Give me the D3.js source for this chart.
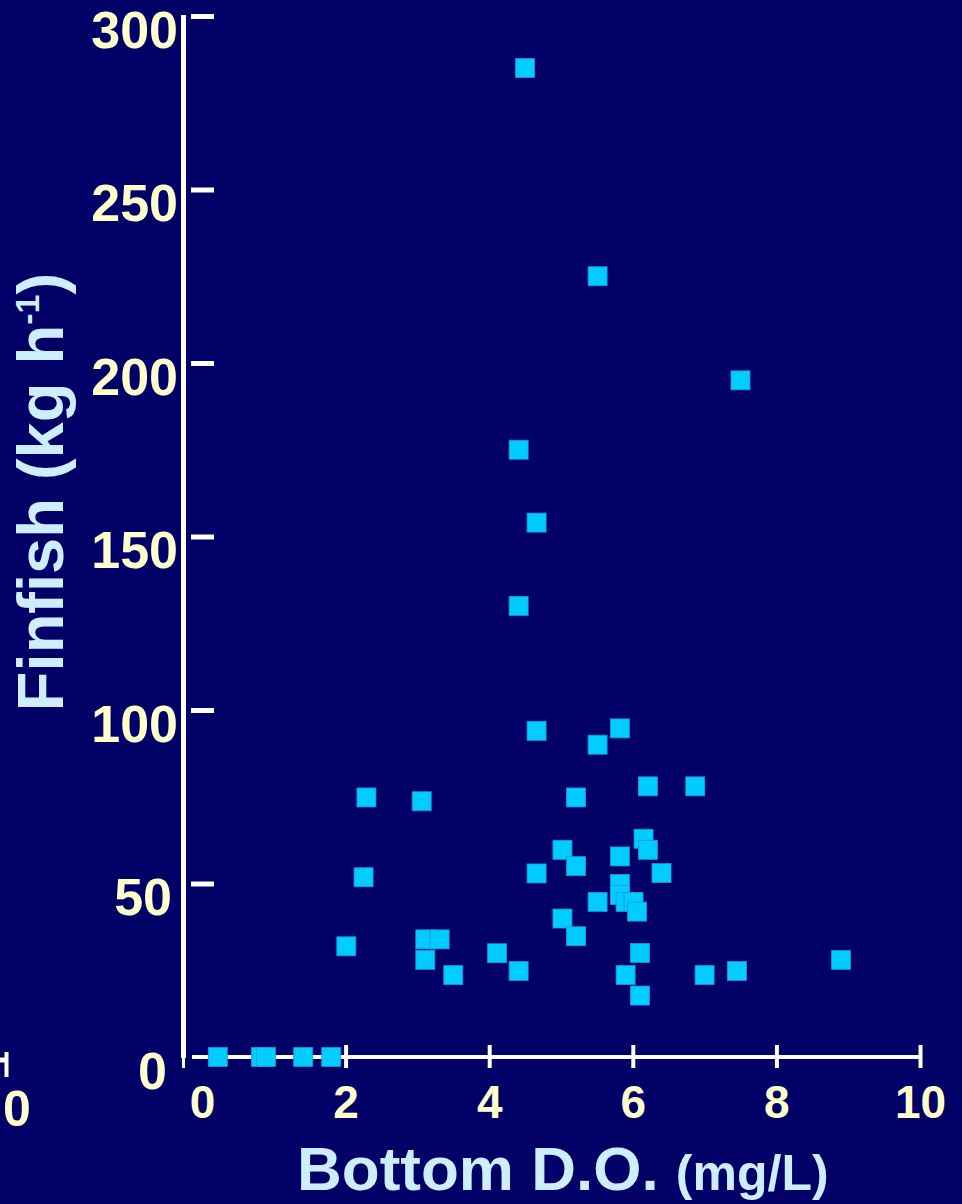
<!DOCTYPE html>
<html>
<head>
<meta charset="utf-8">
<script src="https://cdn.jsdelivr.net/npm/d3@7"></script>
<style>
  html, body { margin: 0; padding: 0; background: #000066; }
  svg { display: block; }
  text { font-family: "Liberation Sans", Arial, sans-serif; font-weight: bold; }
</style>
</head>
<body>
<div id="viz"></div>
<script>
// bottom dissolved oxygen (mg/L)
const bottomDO = [
  4.50, 5.51, 7.50, 4.41, 4.66, 4.41, 4.66, 5.51, 5.82, 2.29,
  3.06, 5.21, 6.21, 6.87, 5.02, 5.21, 4.66, 5.82, 6.15, 6.21,
  6.40, 5.82, 5.82, 5.90, 6.01, 6.06, 5.51, 5.02, 5.21, 6.10,
  5.90, 6.10, 7.00, 7.45, 8.90, 2.25, 2.01, 3.11, 3.31, 3.11,
  3.50, 4.11, 4.41, 0.22, 0.82, 0.89, 1.41, 1.80
]
// finfish catch (kg h-1)
const finfish = [
  285, 225, 195, 175, 154, 130, 94, 90, 94.7, 74.8,
  73.7, 74.8, 78, 78, 59.7, 55, 52.9, 57.8, 62.9, 59.7,
  53, 49.9, 46.7, 44.7, 44.7, 41.9, 44.7, 39.9, 34.8, 30,
  23.6, 17.7, 23.6, 24.8, 28, 51.8, 31.9, 33.9, 33.9, 28,
  23.6, 29.9, 24.8, 0, 0, 0, 0, 0
]
const xTicks = [0, 2, 4, 6, 8, 10]
const yTicks = [0, 50, 100, 150, 200, 250, 300]

const width = 962
const height = 1204

const svg = d3.select("#viz").append("svg")
  .attr("width", width)
  .attr("height", height)

svg.append("rect")
  .attr("width", width)
  .attr("height", height)
  .attr("fill", "#000066")

const x = d3.scaleLinear().domain([0, 10]).range([202, 920])
const y = d3.scaleLinear().domain([0, 300]).range([1057, 16])

const labelColor = "#FFFFCC"
const titleColor = "#CCEEFF"

// leftover of a neighbouring chart at the left edge
svg.append("line")
  .attr("x1", -10).attr("x2", 6)
  .attr("y1", 1060).attr("y2", 1060)
  .attr("stroke", "#fff").attr("stroke-width", 5)
svg.append("line")
  .attr("x1", 6.5).attr("x2", 6.5)
  .attr("y1", 1052).attr("y2", 1077)
  .attr("stroke", "#fff").attr("stroke-width", 4)
svg.append("text")
  .attr("x", 3).attr("y", 1126)
  .attr("font-size", 50)
  .attr("fill", labelColor)
  .text("0")

// y axis line
svg.append("line")
  .attr("x1", 183.5).attr("x2", 183.5)
  .attr("y1", y(300) - 1).attr("y2", 1058)
  .attr("stroke", "#fff").attr("stroke-width", 5)
svg.append("line")
  .attr("x1", 183.5).attr("x2", 183.5)
  .attr("y1", 1058).attr("y2", 1068)
  .attr("stroke", "#fff").attr("stroke-width", 3)

// y ticks, detached from the axis line
const yAxis = svg.append("g")
  .attr("transform", "translate(191,0)")
  .call(d3.axisRight(y).tickValues(yTicks).tickSize(23).tickSizeOuter(0))
yAxis.select(".domain").remove()
yAxis.selectAll(".tick line")
  .attr("stroke", "#fff")
  .attr("stroke-width", 5)
yAxis.selectAll(".tick")
  .filter(d => d === 0)
  .select("line").remove()
yAxis.selectAll(".tick text")
  .attr("x", d => d === 0 ? -24 : d === 50 ? -19 : -13)
  .attr("dy", 31)
  .attr("text-anchor", "end")
  .attr("font-size", 52)
  .attr("font-family", null)
  .attr("fill", labelColor)

// x axis line
svg.append("line")
  .attr("x1", 192).attr("x2", x(10) + 2)
  .attr("y1", 1057).attr("y2", 1057)
  .attr("stroke", "#fff").attr("stroke-width", 4)

const xAxis = svg.append("g")
  .attr("transform", "translate(0,1045)")
  .call(d3.axisBottom(x).tickValues(xTicks).tickSize(23).tickSizeOuter(0))
xAxis.select(".domain").remove()
xAxis.selectAll(".tick line")
  .attr("stroke", "#fff")
  .attr("stroke-width", 4)
xAxis.selectAll(".tick")
  .filter(d => d === 0)
  .select("line").remove()
xAxis.selectAll(".tick text")
  .attr("y", 73)
  .attr("dy", null)
  .attr("font-size", 46)
  .attr("font-family", null)
  .attr("fill", labelColor)

// points
const pts = bottomDO.map((d, i) => ({ x: d, y: finfish[i] }))
const size = 19
svg.append("g")
  .selectAll("rect")
  .data(pts)
  .enter()
  .append("rect")
  .attr("x", d => x(d.x) - size / 2)
  .attr("y", d => y(d.y) - size / 2)
  .attr("width", size)
  .attr("height", size)
  .attr("fill", "#00CCFF")
  .attr("stroke", "#1E96D2")
  .attr("stroke-width", 0.8)

// axis titles
const xt = svg.append("text")
  .attr("x", 297)
  .attr("y", 1190)
  .attr("font-size", 62)
  .attr("fill", titleColor)
xt.append("tspan").text("Bottom D.O. ")
xt.append("tspan").attr("font-size", 50).text("(mg/L)")

const yt = svg.append("text")
  .attr("transform", "translate(63,492) rotate(-90)")
  .attr("text-anchor", "middle")
  .attr("font-size", 65)
  .attr("fill", titleColor)
yt.append("tspan").text("Finfish (kg h")
yt.append("tspan").attr("font-size", 34).attr("dy", -24).text("-1")
yt.append("tspan").attr("dy", 24).text(")")
</script>
</body>
</html>
